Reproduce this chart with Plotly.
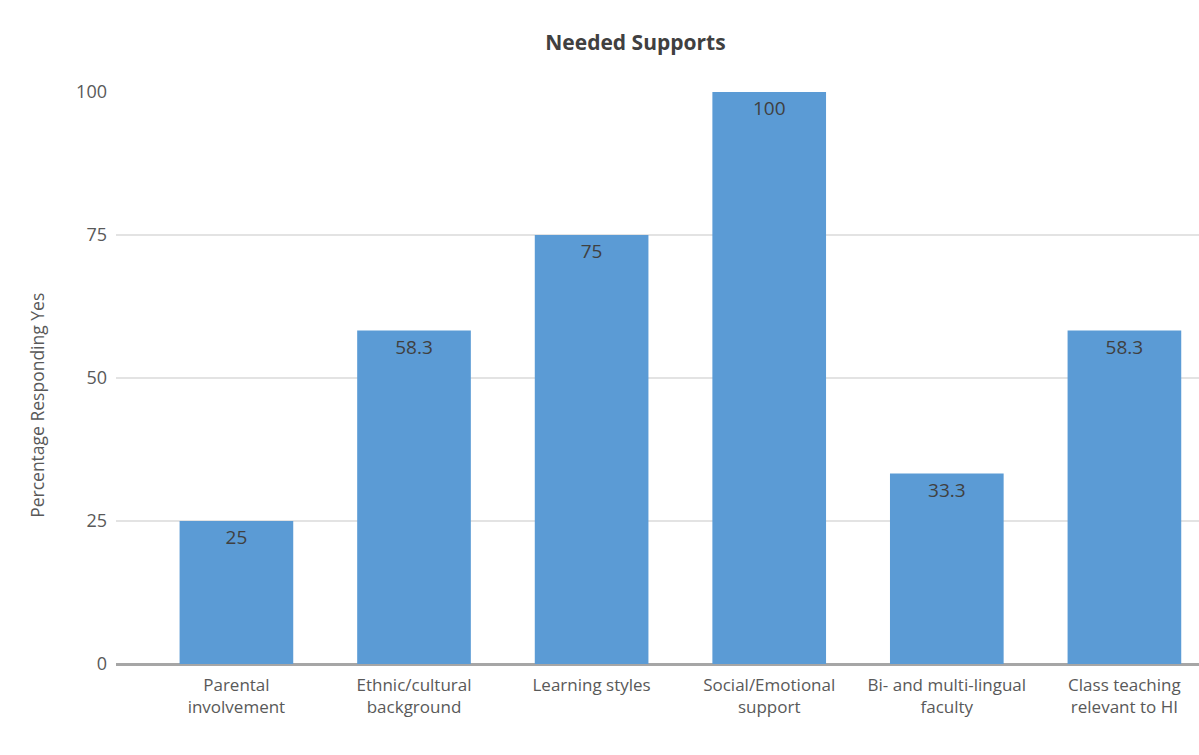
import plotly.graph_objects as go

categories = [
    "Parental<br>involvement",
    "Ethnic/cultural<br>background",
    "Learning styles",
    "Social/Emotional<br>support",
    "Bi- and multi-lingual<br>faculty",
    "Class teaching<br>relevant to HI",
]
values = [25, 58.3, 75, 100, 33.3, 58.3]
value_labels = ["25", "58.3", "75", "100", "33.3", "58.3"]
y_ticks = [0, 25, 50, 75, 100]

FONT = "Open Sans"

fig = go.Figure(
    go.Bar(
        x=list(range(len(categories))),
        y=values,
        text=value_labels,
        textposition="inside",
        insidetextanchor="end",
        textangle=0,
        textfont=dict(family=FONT, size=19, color="#404040"),
        marker=dict(color="#5b9bd5", line=dict(width=0)),
        width=0.64,
        cliponaxis=False,
    )
)

fig.update_layout(
    width=1199,
    height=755,
    margin=dict(l=116, r=0, t=92, b=91),
    paper_bgcolor="white",
    plot_bgcolor="white",
    showlegend=False,
    title=dict(
        text="<b>Needed Supports</b>",
        x=0.53,
        xanchor="center",
        y=0.944,
        yanchor="middle",
        font=dict(family=FONT, size=21, color="#404040"),
    ),
    font=dict(family=FONT, color="#595959"),
    annotations=[
        dict(
            text="Percentage Responding Yes",
            textangle=-90,
            xref="paper",
            yref="paper",
            x=-0.073,
            y=0.453,
            xanchor="center",
            yanchor="middle",
            showarrow=False,
            font=dict(family=FONT, size=17.5, color="#595959"),
        )
    ],
)

fig.update_xaxes(
    range=[-0.678, 5.42],
    tickmode="array",
    tickvals=list(range(len(categories))),
    ticktext=categories,
    tickfont=dict(size=17, color="#595959"),
    showgrid=False,
    ticks="",
    showline=False,
    zeroline=False,
    ticklabelstandoff=9,
)

fig.update_yaxes(
    range=[0, 100],
    tickvals=y_ticks,
    tickfont=dict(size=18, color="#595959"),
    showgrid=True,
    gridcolor="#e3e3e3",
    gridwidth=1.5,
    zeroline=True,
    zerolinecolor="#a6a6a6",
    zerolinewidth=2.5,
    ticks="",
    ticklabelstandoff=8,
)

fig.write_html("out.html")
